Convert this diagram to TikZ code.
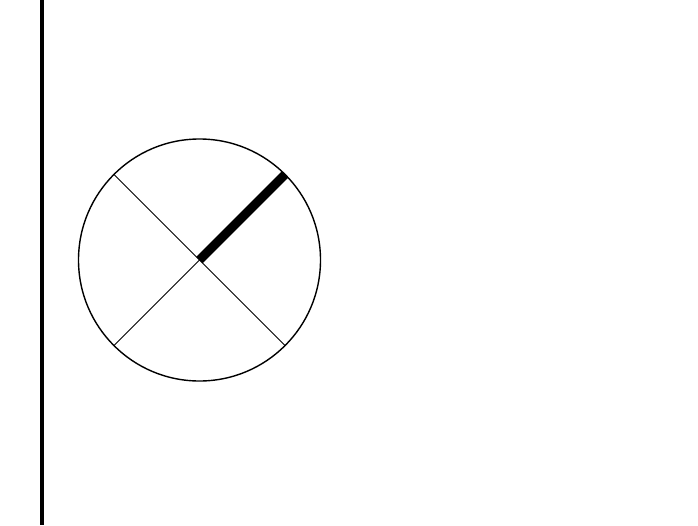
\documentclass[tikz,border=0pt]{standalone}
\usetikzlibrary{calc}
\begin{document}
\begin{tikzpicture}[x=1pt,y=-1pt,
  thinline/.style={line width=0.8pt},
  rim/.style={line width=1.4pt},
  hand/.style={line width=9pt},
  wall/.style={line width=4.5pt}]
\useasboundingbox (0,0) rectangle (698,525);
\coordinate (c) at (199.5,260);
\def\R{121}
\coordinate (ur) at ($(c)+(-45:\R)$);
\coordinate (ul) at ($(c)+(-135:\R)$);
\coordinate (lr) at ($(c)+(45:\R)$);
\coordinate (ll) at ($(c)+(135:\R)$);
\draw[wall] (41.8,0) -- (41.8,525);
\draw[thinline] (ul) -- (lr);
\draw[thinline] (ll) -- (ur);
\draw[rim] (c) circle[radius=\R];
\draw[hand] (c) -- (ur);
\end{tikzpicture}
\end{document}
